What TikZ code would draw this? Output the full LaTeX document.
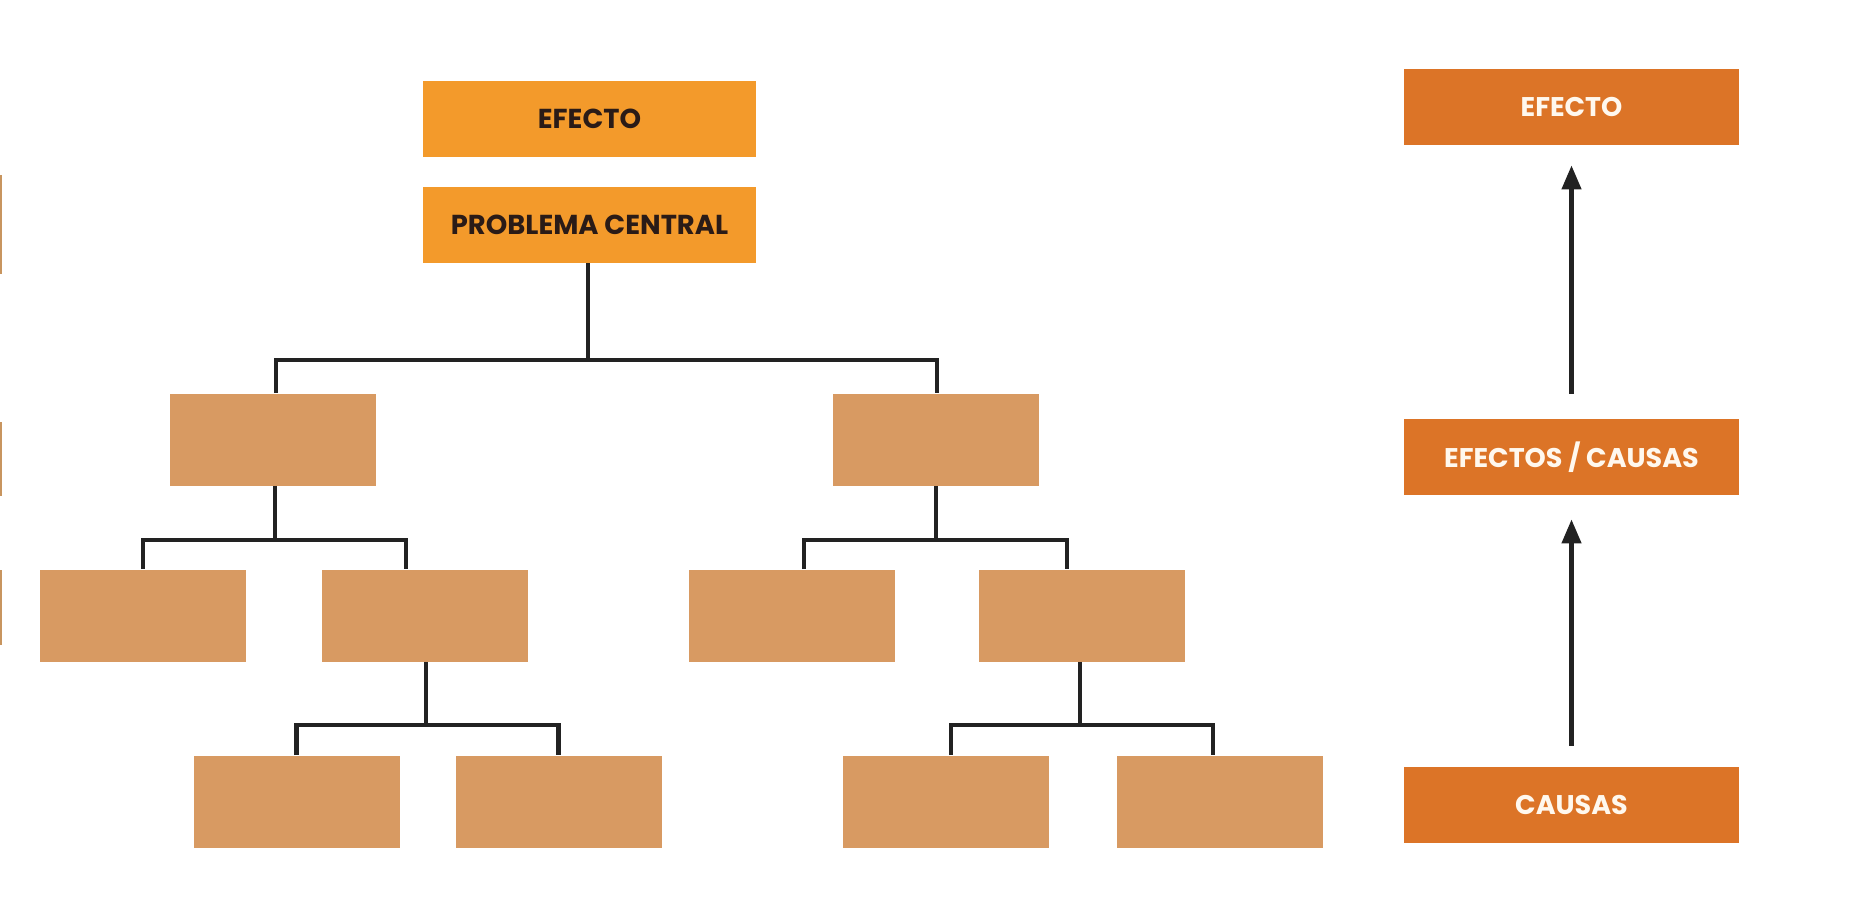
\documentclass[tikz,border=0pt]{standalone}
\usepackage{fontspec}
\setmainfont{Poppins}
\usetikzlibrary{arrows.meta}
\definecolor{brightorange}{HTML}{F39A2B}
\definecolor{darkorange}{HTML}{DC7427}
\definecolor{tanbox}{HTML}{D89A62}
\definecolor{darktext}{HTML}{2A1B17}
\definecolor{lighttext}{HTML}{FFF8EE}
\definecolor{linecol}{HTML}{222222}
\definecolor{slivercol}{HTML}{C8955F}
\tikzset{
  topbox/.style={rectangle, fill=brightorange, draw=none, inner sep=0pt,
    minimum width=166.5pt, minimum height=38pt,
    font=\bfseries\fontsize{13.7}{15}\selectfont, text=darktext},
  sidebox/.style={rectangle, fill=darkorange, draw=none, inner sep=0pt,
    minimum width=167.5pt, minimum height=38pt,
    font=\bfseries\fontsize{13.5}{15}\selectfont, text=lighttext},
  blankbox/.style={rectangle, fill=tanbox, draw=none, inner sep=0pt,
    minimum width=103pt, minimum height=46pt},
  conn/.style={draw=linecol, line width=2.1pt},
  arr/.style={draw=linecol, line width=2.2pt, -{Triangle[width=9.5pt,length=12pt]}},
  sliver/.style={fill=slivercol, draw=none}
}
\begin{document}
\begin{tikzpicture}[x=0.5pt, y=-0.5pt]
\useasboundingbox (0,0) rectangle (1857,907);
\fill[white] (0,0) rectangle (1857,907);
% edge slivers
\fill[sliver] (0,175) rectangle (2,274);
\fill[sliver] (0,422) rectangle (2,496);
\fill[sliver] (0,570) rectangle (2,645);
% left tree
\node[topbox] (efL) at (589.5,119) {EFECTO};
\node[topbox] (pc) at (589.5,225) {PROBLEMA CENTRAL};
\node[blankbox] (L2a) at (273,439.5) {};
\node[blankbox] (L2b) at (936,439.5) {};
\node[blankbox] (L3a) at (142.5,615.5) {};
\node[blankbox] (L3b) at (424.5,615.5) {};
\node[blankbox] (L3c) at (791.5,615.5) {};
\node[blankbox] (L3d) at (1081.5,615.5) {};
\node[blankbox] (L4a) at (296.5,801.5) {};
\node[blankbox] (L4b) at (558.5,801.5) {};
\node[blankbox] (L4c) at (945.5,801.5) {};
\node[blankbox] (L4d) at (1219.5,801.5) {};
% connectors
\draw[conn] ([xshift=-0.75pt]pc.south) -- ++(0,97);
\draw[conn] ([xshift=1.5pt]L2a.north) -- ++(0,-33.5) -| ([xshift=0.5pt]L2b.north);
\draw[conn] ([xshift=1pt]L2a.south) -- ++(0,56);
\draw[conn] ([xshift=0.25pt]L3a.north) -- ++(0,-29) -| ([xshift=-9.25pt]L3b.north);
\draw[conn] (L2b.south) -- ++(0,56);
\draw[conn] ([xshift=6.25pt]L3c.north) -- ++(0,-29) -| ([xshift=-7.25pt]L3d.north);
\draw[conn] ([xshift=0.75pt]L3b.south) -- ++(0,64);
\draw[conn] (L4a.north) -- ++(0,-30.5) -| (L4b.north);
\draw[conn] ([xshift=-0.75pt]L3d.south) -- ++(0,64);
\draw[conn] ([xshift=2.75pt]L4c.north) -- ++(0,-30.5) -| ([xshift=-3.25pt]L4d.north);
% right column
\node[sidebox] (efR) at (1571.5,107) {EFECTO};
\node[sidebox] (ecR) at (1571.5,457) {EFECTOS / CAUSAS};
\node[sidebox] (caR) at (1571.5,805) {CAUSAS};
\draw[arr, shorten <=10.5pt, shorten >=12pt] (caR) -- (ecR);
\draw[arr, shorten <=12.5pt, shorten >=10pt] (ecR) -- (efR);
\end{tikzpicture}
\end{document}
